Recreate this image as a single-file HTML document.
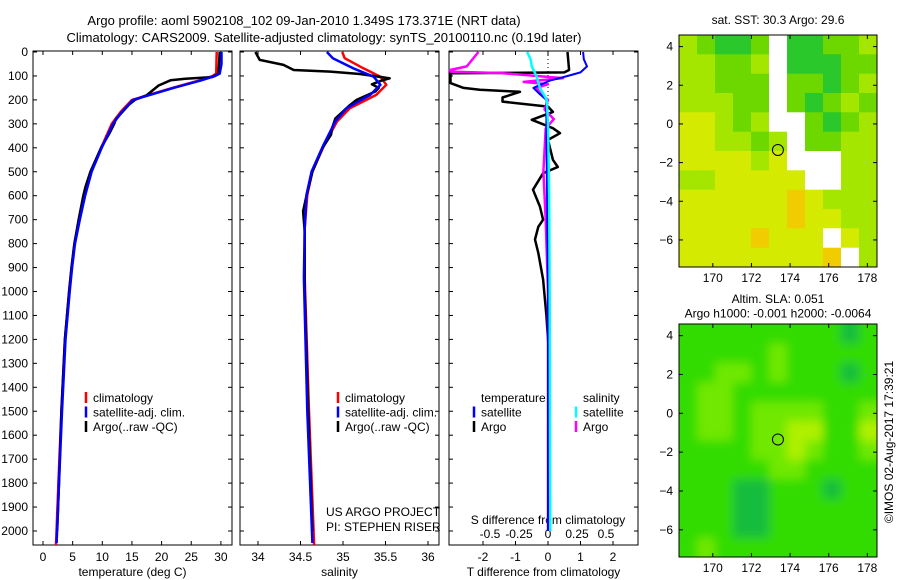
<!DOCTYPE html>
<html><head><meta charset="utf-8"><style>
body{margin:0;background:#fff}
svg{display:block;font-family:"Liberation Sans",sans-serif;font-size:12px}
</style></head><body>
<svg id="fig" width="900" height="580" viewBox="0 0 900 580" xmlns="http://www.w3.org/2000/svg">
<defs>
<filter id="blur" x="-5%" y="-5%" width="110%" height="110%"><feGaussianBlur stdDeviation="5"/></filter>
<clipPath id="slaclip"><rect x="679" y="324" width="198" height="233"/></clipPath>
</defs>
<rect width="900" height="580" fill="#fff"/>
<text x="304" y="25" text-anchor="middle" font-size="13">Argo profile: aoml 5902108_102 09-Jan-2010 1.349S 173.371E (NRT data)</text>
<text x="324" y="42" text-anchor="middle" font-size="13">Climatology: CARS2009. Satellite-adjusted climatology: synTS_20100110.nc (0.19d later)</text>
<g id="g"></g>
</svg>
<script>
// ---- profile data (depth m, value) ----
const tClimDepth=[0,90,100,120,150,175,200,250,300,400,500,600,700,800,900,1000,1200,1500,1800,2058];
const tClim=[29.3,29.2,28.6,26.2,21.8,18.4,15.0,13.1,11.6,9.8,8.1,7.0,6.1,5.3,4.8,4.4,3.7,3.1,2.6,2.2];
const tSatDepth=[0,50,90,100,120,150,175,200,250,300,400,500,600,700,800,900,1000,1200,1500,1800,2050];
const tSat=[30.1,30.1,29.8,29.0,26.5,22.0,18.6,15.2,13.3,11.8,9.9,8.2,7.1,6.2,5.4,4.9,4.5,3.8,3.2,2.7,2.3];
const tArgoDepth=[0,90,105,112,118,140,180,200,220,280,300,340,400,500,560,600,700,800,900,1000,1200,1500,1800,2000];
const tArgo=[29.8,29.6,28.5,24.0,21.5,19.5,17.5,15.5,14.5,12.3,12.0,11.2,9.8,8.0,7.2,6.8,6.0,5.3,4.8,4.4,3.7,3.1,2.7,2.4];
const sClimDepth=[0,26,68,103,137,179,235,290,388,499,596,735,943,1500,2058];
const sClim=[34.99,35.02,35.24,35.44,35.51,35.39,35.08,34.93,34.78,34.64,34.58,34.55,34.55,34.6,34.66];
const sSatDepth=[0,26,68,103,137,179,235,290,388,499,596,735,943,1500,2050];
const sSat=[34.81,34.88,35.12,35.36,35.44,35.32,35.04,34.91,34.77,34.63,34.57,34.55,34.54,34.58,34.64];
const sArgoDepth=[0,33,54,75,82,92,110,120,135,150,165,200,222,278,320,345,400,500,600,665,750,1000,1500,2000];
const sArgo=[33.97,34.02,34.3,34.42,34.85,35.2,35.55,35.45,35.34,35.42,35.38,35.16,35.08,34.91,34.87,34.86,34.76,34.64,34.57,34.53,34.55,34.55,34.59,34.64];
// ---- difference data ----
const dTArgoDepth=[0,75,85,89,100,130,150,158,166,190,207,228,250,283,318,339,367,450,480,506,575,645,700,730,783,839,950,1100,1300,1600,2000];
const dTArgo=[0.6,0.65,0.5,-3.0,-3.0,-3.0,-2.6,-2.1,-0.86,-1.4,-1.4,0.0,0.15,-0.5,0.15,0.37,0.0,0.15,0.3,-0.15,-0.46,-0.25,-0.15,-0.3,-0.4,-0.3,-0.15,-0.05,0.05,0.05,0.03];
const dTSatDepth=[0,30,60,85,100,120,150,170,200,300,600,1000,2000];
const dTSat=[1.08,1.1,1.2,1.0,0.6,0.05,-0.45,-0.3,-0.05,-0.05,-0.03,0.0,0.0];
const dSArgoDepth=[0,60,75,82,88,109,125,135,150,170,200,240,280,320,500,700,1000,2000];
const dSArgo=[-0.6,-0.7,-0.9,-0.84,-0.4,0.13,-0.21,0.0,-0.1,-0.07,0.0,-0.03,0.05,-0.02,-0.04,-0.02,0.0,0.0];
const dSSatDepth=[0,30,60,100,150,200,300,600,1000,2000];
const dSSat=[-0.18,-0.15,-0.14,-0.1,-0.07,-0.01,0.0,0.01,0.015,0.02];
const depthTicks=[0,100,200,300,400,500,600,700,800,900,1000,1100,1200,1300,1400,1500,1600,1700,1800,1900,2000];
const tTicks=[0,5,10,15,20,25,30];
const sTicks=[34,34.5,35,35.5,36];
const dTTicks=[-2,-1,0,1,2];
const dSTicks=[-0.5,-0.25,0,0.25,0.5];
// ---- maps (rows N->S 1deg, cols W->E ~0.93deg; -1 = no data) ----
const sstGrid=[
[2,1,0,0,1,-1,0,0,1,1,2],
[2,2,1,1,2,-1,0,0,0,1,1],
[2,2,1,1,1,-1,1,1,0,1,2],
[2,2,2,1,1,-1,1,0,1,2,1],
[3,3,2,1,2,-1,-1,1,0,1,2],
[3,3,2,2,1,2,-1,1,1,2,2],
[3,3,3,3,2,3,-1,-1,-1,2,2],
[2,2,3,3,3,3,3,-1,-1,2,2],
[3,3,3,3,3,3,4,3,2,2,2],
[3,3,3,3,3,3,4,3,3,2,2],
[3,3,3,3,4,3,3,3,-1,3,2],
[3,3,3,3,3,3,3,3,4,-1,2]];
const slaGrid=[
[1,1,1,1,1,1,1,1,1,0,1],
[1,1,1,1,1,2,1,1,1,1,1],
[1,1,2,2,1,2,1,1,1,0,1],
[1,2,2,1,1,1,1,1,1,1,1],
[1,2,2,1,2,2,2,2,1,1,2],
[1,2,2,1,2,2,3,3,1,1,3],
[1,1,1,1,2,2,3,2,1,1,2],
[1,1,1,1,1,2,2,1,1,1,1],
[1,1,1,0,0,1,1,1,0,1,1],
[1,1,1,0,0,1,1,1,1,1,1],
[1,1,1,0,0,1,1,1,1,1,1],
[1,2,1,1,1,1,1,1,1,1,1]];
const latTicks=[4,2,0,-2,-4,-6];
const lonTicks=[170,172,174,176,178];
const floatLon=173.371, floatLat=-1.349;

const NS='http://www.w3.org/2000/svg';
const G=document.getElementById('g');
function mk(tag,attrs,parent){const e=document.createElementNS(NS,tag);for(const k in attrs)e.setAttribute(k,attrs[k]);(parent||G).appendChild(e);return e;}
function txt(s,x,y,anchor,parent){const e=mk('text',{x:x,y:y,'text-anchor':anchor||'middle'},parent);e.textContent=s;return e;}
const Y0=51,Y1=545;
const yD=d=>52+d*0.2395;

function panel(name,x0,x1,xs,ticks,tickFmt,labY,xlabel,drawYlab){
  const g=mk('g',{});
  
  
  mk('rect',{x:x0,y:Y0,width:x1-x0,height:Y1-Y0,fill:'none',stroke:'#000','stroke-width':1},g);
  depthTicks.forEach(d=>{
    mk('line',{x1:x0,x2:x0+4,y1:yD(d),y2:yD(d),stroke:'#000'},g);
    mk('line',{x1:x1-4,x2:x1,y1:yD(d),y2:yD(d),stroke:'#000'},g);
    if(drawYlab){const t=txt(String(d),28,yD(d)+4,'end',g);}
  });
  if(ticks){ticks.forEach(v=>{
    const x=xs(v);
    mk('line',{x1:x,x2:x,y1:Y1,y2:Y1-4,stroke:'#000'},g);
    mk('line',{x1:x,x2:x,y1:Y0,y2:Y0+4,stroke:'#000'},g);
    const t=txt(tickFmt(v),x,labY,'middle',g);
    
    
  });}
  const xl=txt(xlabel,(x0+x1)/2,576,'middle',g);
  
  
  return g;
}
function line(g,depths,vals,xs,color,w,name,xmin){
  const pts=depths.map((d,i)=>Math.max(xmin,xs(vals[i])).toFixed(1)+','+yD(d).toFixed(1)).join(' ');
  const p=mk('polyline',{points:pts,fill:'none',stroke:color,'stroke-width':w,'stroke-linejoin':'round'},g);
  
  
}
function legend(g,x,y,items){
  items.forEach((it,i)=>{
    const yy=y+i*14.5;
    if(it[1])mk('line',{x1:x-7,x2:x-7,y1:yy-10,y2:yy+1,stroke:it[1],'stroke-width':2.5},g);
    const t=txt(it[0],x,yy,'start',g);
    
    
  });
}
// Panel 1 temperature
const xT=v=>43+v*5.93;
const g1=panel('temperature',33,232,xT,tTicks,v=>String(v),561,'temperature (deg C)',true);
line(g1,tClimDepth,tClim,xT,'#f00',2.5,'climatology-temp-line',33);
line(g1,tArgoDepth,tArgo,xT,'#000',2.5,'argo-temp-line',33);
line(g1,tSatDepth,tSat,xT,'#00f',2.5,'satellite-temp-line',33);
legend(g1,93,402,[['climatology','#f00'],['satellite-adj. clim.','#00f'],['Argo(..raw -QC)','#000']]);
// Panel 2 salinity
const xS=v=>258+(v-34)*85;
const g2=panel('salinity',240,439,xS,sTicks,v=>String(v),561,'salinity',false);
line(g2,sClimDepth,sClim,xS,'#f00',2.5,'climatology-sal-line',240);
line(g2,sArgoDepth,sArgo,xS,'#000',2.5,'argo-sal-line',240);
line(g2,sSatDepth,sSat,xS,'#00f',2.5,'satellite-sal-line',240);
legend(g2,345,402,[['climatology','#f00'],['satellite-adj. clim.','#00f'],['Argo(..raw -QC)','#000']]);
const c1=txt('US ARGO PROJECT',326,516,'start',g2);
const c2=txt('PI: STEPHEN RISER',326,531,'start',g2);
// Panel 3 differences
const xDT=v=>548+v*32.5;
const xDS=v=>548+v*116;
const g3=panel('difference',449,638,xDT,dTTicks,v=>String(v),561,'T difference from climatology',false);
dSTicks.forEach(v=>{const t=txt(String(v),xDS(v),538,'middle',g3);});
const st=txt('S difference from climatology',548,524,'middle',g3);
mk('line',{x1:xDT(0),x2:xDT(0),y1:Y0,y2:yD(300),stroke:'#000','stroke-dasharray':'1,3'},g3);
line(g3,dTArgoDepth,dTArgo,xDT,'#000',2.5,'argo-t-diff-line',450);
line(g3,dSArgoDepth,dSArgo,xDS,'#f0f',2.5,'argo-s-diff-line',450);
line(g3,dTSatDepth,dTSat,xDT,'#00f',2,'satellite-t-diff-line',450);
line(g3,dSSatDepth,dSSat,xDS,'#0ff',2.5,'satellite-s-diff-line',450);
legend(g3,481,402,[['temperature',null],['satellite','#00f'],['Argo','#000']]);
legend(g3,583,402,[['salinity',null],['satellite','#0ff'],['Argo','#f0f']]);

// Maps
function map(name,y0,y1,grid,colors,titles,smooth){
  const x0=679,x1=877,lonA=168.25,lonB=178.5,latA=4.6,latB=-7.4;
  const xl=v=>x0+(v-lonA)/(lonB-lonA)*(x1-x0);
  const yl=v=>y0+(latA-v)/(latA-latB)*(y1-y0);
  const g=mk('g',{});
  
  
  const cells=mk('g',smooth?{'clip-path':'url(#slaclip)'}:{},g);
  const inner=smooth?mk('g',{filter:'url(#blur)'},cells):cells;
  const nr=grid.length,nc=grid[0].length,cw=(lonB-lonA)/nc,rh=(latA-latB)/nr;
  const pad=smooth?12:0;
  grid.forEach((row,r)=>row.forEach((v,c)=>{
    let cx=xl(lonA+c*cw),cy=yl(latA-r*rh);
    let w=xl(lonA+(c+1)*cw)-cx+0.5,h=yl(latA-(r+1)*rh)-cy+0.5;
    if(smooth){if(c==0){cx-=pad;w+=pad;} if(c==nc-1)w+=pad; if(r==0){cy-=pad;h+=pad;} if(r==nr-1)h+=pad;}
    const cell=mk('rect',{x:cx.toFixed(1),y:cy.toFixed(1),width:w.toFixed(1),height:h.toFixed(1),fill:v<0?'#fff':colors[v]},inner);
    
    
  }));
  mk('rect',{x:x0,y:y0,width:x1-x0,height:y1-y0,fill:'none',stroke:'#000'},g);
  latTicks.forEach(v=>{const y=yl(v);mk('line',{x1:x0,x2:x0+4,y1:y,y2:y,stroke:'#000'},g);mk('line',{x1:x1-4,x2:x1,y1:y,y2:y,stroke:'#000'},g);
    const t=txt(String(v).replace('-','\u2212'),673,y+4,'end',g);});
  lonTicks.forEach(v=>{const x=xl(v);mk('line',{x1:x,x2:x,y1:y1,y2:y1-4,stroke:'#000'},g);mk('line',{x1:x,x2:x,y1:y0,y2:y0+4,stroke:'#000'},g);
    const t=txt(String(v),x,y1+15,'middle',g);});
  const fc=mk('circle',{cx:xl(floatLon),cy:yl(floatLat),r:5.5,fill:'none',stroke:'#000'},g);
  
  
  titles.forEach((s,i)=>{const t=txt(s,778,titles.length>1?303+i*14.5:24,'middle',g);});
}
map('sst-map',35,267,sstGrid,['#2ac82a','#6cd800','#a4e600','#d4ea00','#f0cc00'],['sat. SST: 30.3 Argo: 29.6'],false);
map('sla-map',324,557,slaGrid,['#14bc3c','#30dc00','#70e800','#b0f000'],['Altim. SLA: 0.051','Argo h1000: -0.001 h2000: -0.0064'],true);
const ts=txt('\u00a9IMOS 02-Aug-2017 17:39:21',0,0,'middle');
ts.setAttribute('transform','translate(893,442) rotate(-90)');


</script>
</body></html>
